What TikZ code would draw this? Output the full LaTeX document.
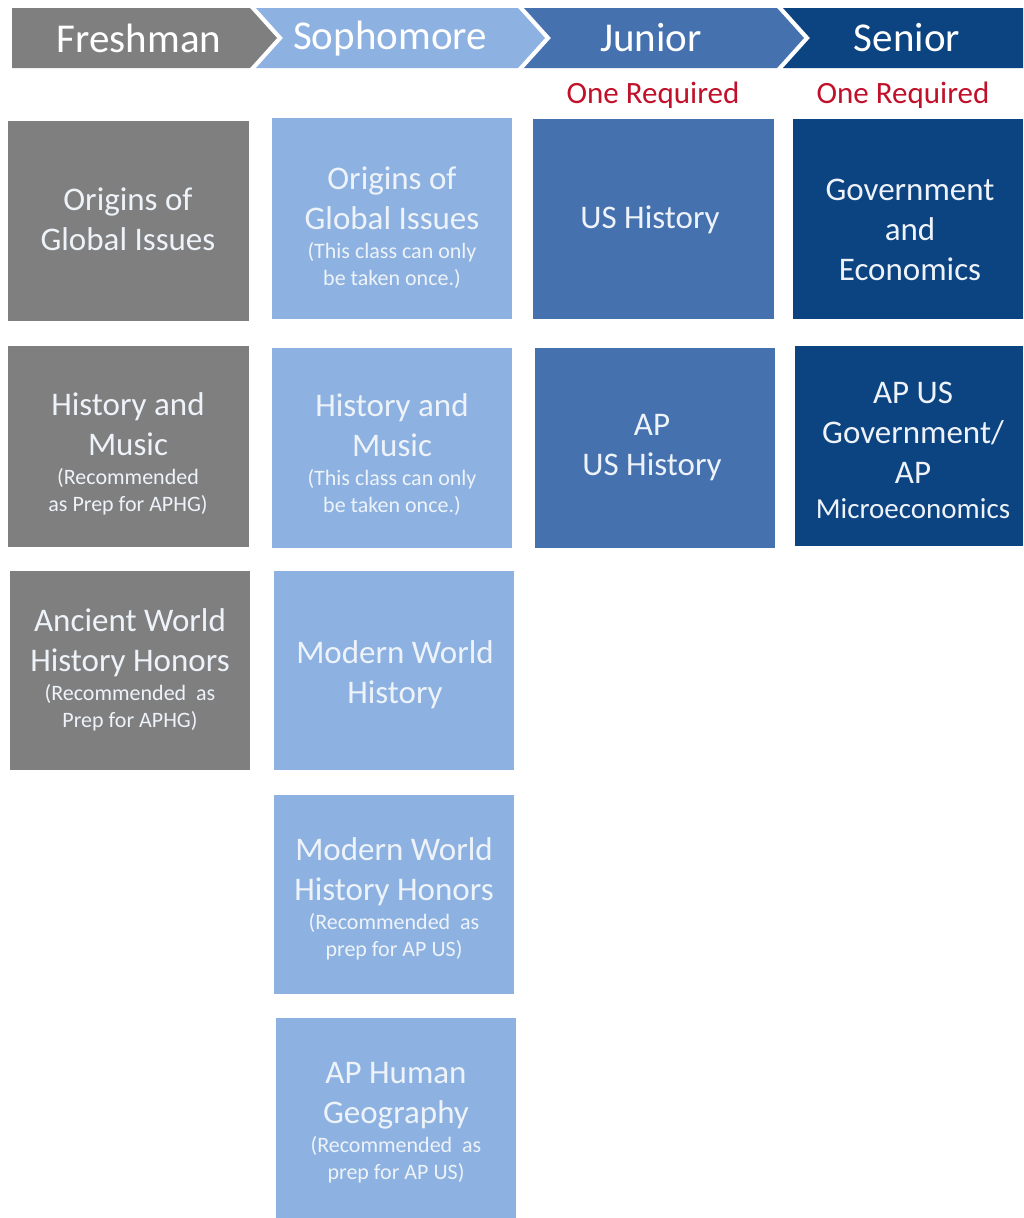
\documentclass[tikz,border=0pt]{standalone}
\usepackage{fontspec}
\setmainfont{Carlito}

\definecolor{freshgray}{HTML}{7F7F7F}
\definecolor{sophblue}{HTML}{8DB2E1}
\definecolor{junblue}{HTML}{4571AF}
\definecolor{senblue}{HTML}{0C4381}
\definecolor{reqred}{HTML}{C0102A}
\definecolor{boxtext}{HTML}{EEF3F9}

% small note lines inside the course boxes
\newcommand{\sm}{\fontsize{22}{27}\selectfont}
\newcommand{\midsz}{\fontsize{29}{38}\selectfont}

\begin{document}
\begin{tikzpicture}[x=1pt,y=-1pt,
    course/.style={align=center, text=boxtext, inner sep=0pt, font=\fontsize{33}{40}\selectfont},
    year/.style={text=white, font=\fontsize{41}{48}\selectfont},
    req/.style={text=reqred, font=\fontsize{31}{36}\selectfont}]

    \useasboundingbox (0,0) rectangle (1023,1218);

    % Chevron header bar
    \fill[freshgray] (12,8) -- (250,8) -- (277,38) -- (250,68) -- (12,68) -- cycle;
    \fill[sophblue] (256,8) -- (518,8) -- (545,38) -- (518,68) -- (256,68) -- (283,38) -- cycle;
    \fill[junblue] (524,8) -- (777,8) -- (804,38) -- (777,68) -- (524,68) -- (551,38) -- cycle;
    \fill[senblue] (783,8) -- (1023,8) -- (1023,68) -- (783,68) -- (810,38) -- cycle;

    \node[year] (fresh) at (139,38) {Freshman};
    \node[year] (soph) at (390,39) {Sophomore};
    \node[year] (jun) at (651,38) {Junior};
    \node[year] (sen) at (907,38) {Senior};

    % "One Required" notes
    \node[req] (junreq) at (653,95) {One Required};
    \node[req] (senreq) at (903,95) {One Required};

    % Freshman column
    \fill[freshgray] (8,121) rectangle (249,321);
    \fill[freshgray] (8,346) rectangle (249,547);
    \fill[freshgray] (10,571) rectangle (250,770);
    \node[course] (f1) at (128,219) {Origins of\\Global Issues};
    \node[course] (f2) at (128,453.5) {History and\\Music\\[-11pt]\sm (Recommended\\[-13pt]\sm as Prep for APHG)};
    \node[course] (f3) at (130,670) {Ancient World\\History Honors\\[-11pt]\sm (Recommended\ \ as\\[-13pt]\sm Prep for APHG)};

    % Sophomore column
    \fill[sophblue] (272,118) rectangle (512,319);
    \fill[sophblue] (272,348) rectangle (512,548);
    \fill[sophblue] (274,571) rectangle (514,770);
    \fill[sophblue] (274,795) rectangle (514,994);
    \fill[sophblue] (276,1018) rectangle (516,1218);
    \node[course] (s1) at (392,228) {Origins of\\Global Issues\\[-11pt]\sm (This class can only\\[-13pt]\sm be taken once.)};
    \node[course] (s2) at (392,455) {History and\\Music\\[-11pt]\sm (This class can only\\[-13pt]\sm be taken once.)};
    \node[course] (s3) at (395,675) {Modern World\\History};
    \node[course] (s4) at (394,899) {Modern World\\History Honors\\[-11pt]\sm (Recommended\ \ as\\[-13pt]\sm prep for AP US)};
    \node[course] (s5) at (396,1123) {AP Human\\Geography\\[-11pt]\sm (Recommended\ \ as\\[-13pt]\sm prep for AP US)};

    % Junior column
    \fill[junblue] (533,119) rectangle (774,319);
    \fill[junblue] (535,348) rectangle (775,548);
    \node[course] (j1) at (650,220) {US History};
    \node[course] (j2) at (652,448) {AP\\US History};

    % Senior column
    \fill[senblue] (793,119) rectangle (1023,319);
    \fill[senblue] (795,346) rectangle (1023,546);
    \node[course] (g1) at (910,230) {Government\\and\\Economics};
    \node[course] (g2) at (913,450) {AP US\\Government/\\AP\\[-5pt]\midsz Microeconomics};

\end{tikzpicture}
\end{document}
